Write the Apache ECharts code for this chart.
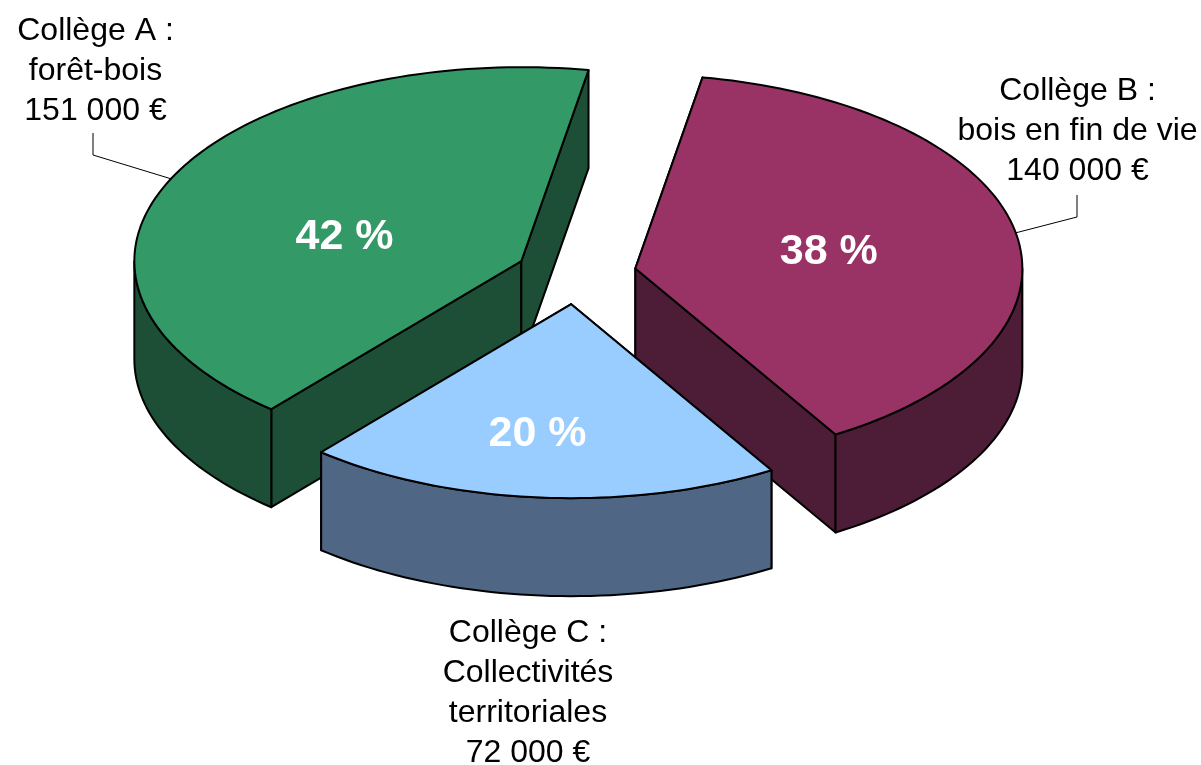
<!DOCTYPE html>
<html><head><meta charset="utf-8">
<style>html,body{margin:0;padding:0;background:#fff}#c{width:1201px;height:765px}</style>
<script src="https://cdn.jsdelivr.net/npm/echarts@6/dist/echarts.min.js"></script>
</head><body><div id="c"></div>
<script>
// Data
const colleges = ['Collège A :', 'Collège B :', 'Collège C :'];
const descriptions = ['forêt-bois', 'bois en fin de vie', 'Collectivités\nterritoriales'];
const amounts = [151000, 140000, 72000];
const amountLabels = ['151 000 €', '140 000 €', '72 000 €'];
const percentLabels = ['42 %', '38 %', '20 %'];

// Styles and layout
const topColors = ['#339966', '#993366', '#99CCFF'];
const sideColors = ['#1C4F36', '#4D1C36', '#4F6785'];
const sliceOrder = [1, 2, 0];            // clockwise from the start angle: B, C, A
const drawOrder = [0, 1, 2];             // A, B, C back to front
const CX = 576, CY = 274, RX = 387, RY = 194, DEPTH = 98, EXPLODE = 0.156, START = 10;
const percentOffsets = [[-0.457, -0.123], [0.5, -0.085], [-0.087, 0.672]];
const labelBoxes = [[95.5, 71], [1077.5, 131], [528, 693]];
const leaderElbows = [[93, 133, 155], [1077, 195, 217], null];

const total = amounts.reduce((a, b) => a + b, 0);
const spans = {};
let cursor = START;
sliceOrder.forEach(i => { const d = amounts[i] / total * 360; spans[i] = [cursor, cursor + d]; cursor += d; });

function dir(deg) { const t = deg * Math.PI / 180; return [Math.sin(t), -Math.cos(t)]; }
function arc(c, a, b, dy) {
  const pts = [], n = Math.max(2, Math.ceil(Math.abs(b - a) / 1.5));
  for (let k = 0; k <= n; k++) { const d = dir(a + (b - a) * k / n); pts.push([c[0] + d[0] * RX, c[1] + d[1] * RY + dy]); }
  return pts;
}
const edge = { stroke: '#000', lineWidth: 2, lineJoin: 'round' };
function quad(p, q, fill) {
  return { type: 'polygon', shape: { points: [p, q, [q[0], q[1] + DEPTH], [p[0], p[1] + DEPTH]] }, style: Object.assign({ fill }, edge) };
}
function renderItem(params) {
  const i = params.dataIndex, [a, b] = spans[i], mid = (a + b) / 2, m = dir(mid);
  const c = [CX + m[0] * RX * EXPLODE, CY + m[1] * RY * EXPLODE];
  const kids = [];
  const pa = arc(c, a, a, 0)[0], pb = arc(c, b, b, 0)[0];
  kids.push(quad(c, pa, sideColors[i]), quad(c, pb, sideColors[i]));
  // outer wall: the part of the rim that faces the viewer
  for (const off of [0, 360]) {
    const w0 = Math.max(a, 90 + off), w1 = Math.min(b, 270 + off);
    if (w1 > w0) {
      const pts = arc(c, w0, w1, 0).concat(arc(c, w1, w0, DEPTH));
      kids.push({ type: 'polygon', shape: { points: pts }, style: Object.assign({ fill: sideColors[i] }, edge) });
    }
  }
  // top face
  kids.push({ type: 'polygon', shape: { points: [c].concat(arc(c, a, b, 0)) }, style: Object.assign({ fill: topColors[i] }, edge) });
  // percentage
  const off = percentOffsets[i];
  kids.push({ type: 'text', style: { x: c[0] + off[0] * RX, y: c[1] + off[1] * RY, text: percentLabels[i], fill: '#fff',
    font: 'bold 43px "Liberation Sans", Arial, sans-serif', align: 'center', verticalAlign: 'middle' } });
  // leader line
  const el = leaderElbows[i];
  if (el) {
    kids.push({ type: 'polyline', shape: { points: [[el[0], el[1]], [el[0], el[2]], [c[0] + m[0] * RX, c[1] + m[1] * RY]] },
      style: { stroke: '#000', lineWidth: 1, fill: null } });
  }
  // outer label
  kids.push({ type: 'text', style: { x: labelBoxes[i][0], y: labelBoxes[i][1],
    text: [colleges[i], descriptions[i], amountLabels[i]].join('\n'), fill: '#000',
    font: '32px "Liberation Sans", Arial, sans-serif', lineHeight: 40, align: 'center', verticalAlign: 'middle' } });
  return { type: 'group', children: kids };
}
const chart = echarts.init(document.getElementById('c'), null, { renderer: 'canvas' });
chart.setOption({
  animation: false,
  backgroundColor: '#fff',
  series: [{
    type: 'custom', coordinateSystem: 'none', silent: true,
    renderItem,
    data: drawOrder.map(i => ({ name: colleges[i], value: amounts[i] }))
  }]
});
</script></body></html>
